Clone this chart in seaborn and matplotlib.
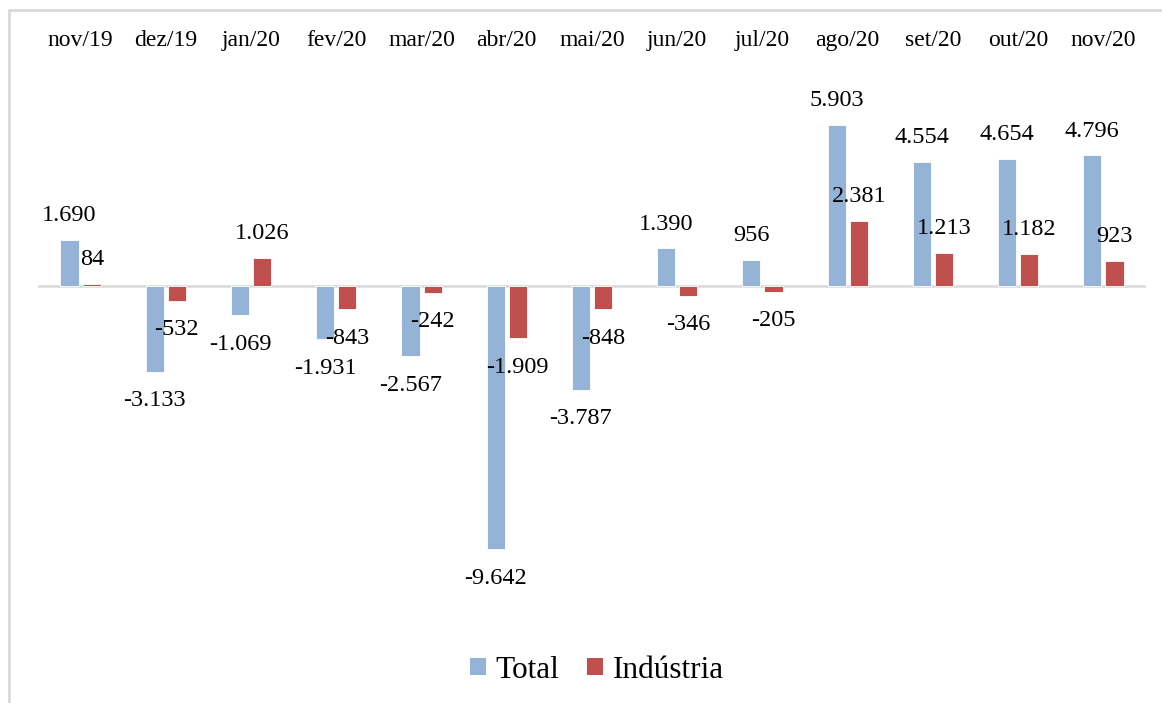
import matplotlib
matplotlib.use("Agg")
import matplotlib.pyplot as plt
import seaborn as sns
import pandas as pd
from matplotlib.patches import Rectangle, Patch

months = ["nov/19", "dez/19", "jan/20", "fev/20", "mar/20", "abr/20", "mai/20",
          "jun/20", "jul/20", "ago/20", "set/20", "out/20", "nov/20"]
total = [1690, -3133, -1069, -1931, -2567, -9642, -3787, 1390, 956, 5903, 4554, 4654, 4796]
industria = [84, -532, 1026, -843, -242, -1909, -848, -346, -205, 2381, 1213, 1182, 923]
series = ["Total", "Indústria"]
colors = ["#95B3D7", "#C0504D"]

def fmt(v):
    s = f"{abs(v):,}".replace(",", ".")
    return ("-" if v < 0 else "") + s

df = pd.DataFrame({
    "mes": months * 2,
    "valor": total + industria,
    "serie": [series[0]] * len(months) + [series[1]] * len(months),
})

sns.set_theme(style="white")
plt.rcParams["font.family"] = ["Liberation Serif", "DejaVu Serif"]

fig = plt.figure(figsize=(11.62, 7.03), dpi=100)
fig.patches.append(Rectangle((9 / 1162, -0.1), 1.2, 1 - 10 / 703 + 0.1,
                             transform=fig.transFigure, fill=False,
                             edgecolor="#D9D9D9", linewidth=2, zorder=0))
ax = fig.add_axes([38 / 1162, 1 - 559 / 703, (1146 - 38) / 1162, (559 - 68) / 703])

sns.barplot(data=df, x="mes", y="valor", hue="serie", order=months,
            hue_order=series, palette=colors, width=0.52, gap=0.18,
            saturation=1, edgecolor="white", linewidth=0.6, ax=ax, legend=False)

ax.set_ylim(-10000, 8000)
ax.set_xlim(-0.5, len(months) - 0.5)
ax.axhline(0, color="#D9D9D9", linewidth=1.8, zorder=0.5)
for s in ax.spines.values():
    s.set_visible(False)
ax.set_yticks([])
ax.set_ylabel("")
ax.set_xlabel("")
ax.xaxis.tick_top()
ax.tick_params(axis="x", length=0, pad=12, labelsize=17, colors="black")

for container in ax.containers:
    for bar in container:
        val = bar.get_y() + bar.get_height() if bar.get_y() >= 0 else bar.get_y()
        xc = bar.get_x() + bar.get_width() / 2
        off = 17.5 if val >= 0 else -21
        ax.annotate(fmt(int(round(val))), (xc, val), xytext=(0, off),
                    textcoords="offset points", ha="center", va="center",
                    fontsize=17.5, color="black")

handles = [Patch(facecolor=c, edgecolor="none") for c in colors]
leg = fig.legend(handles, series, loc="center", bbox_to_anchor=(597 / 1162, 1 - 670 / 703),
                 ncol=2, frameon=False, fontsize=22.5, handlelength=0.5, handleheight=0.5,
                 handletextpad=0.3, columnspacing=0.9)
for t in leg.get_texts():
    t.set_color("black")

fig.savefig("out.png", dpi=100)
